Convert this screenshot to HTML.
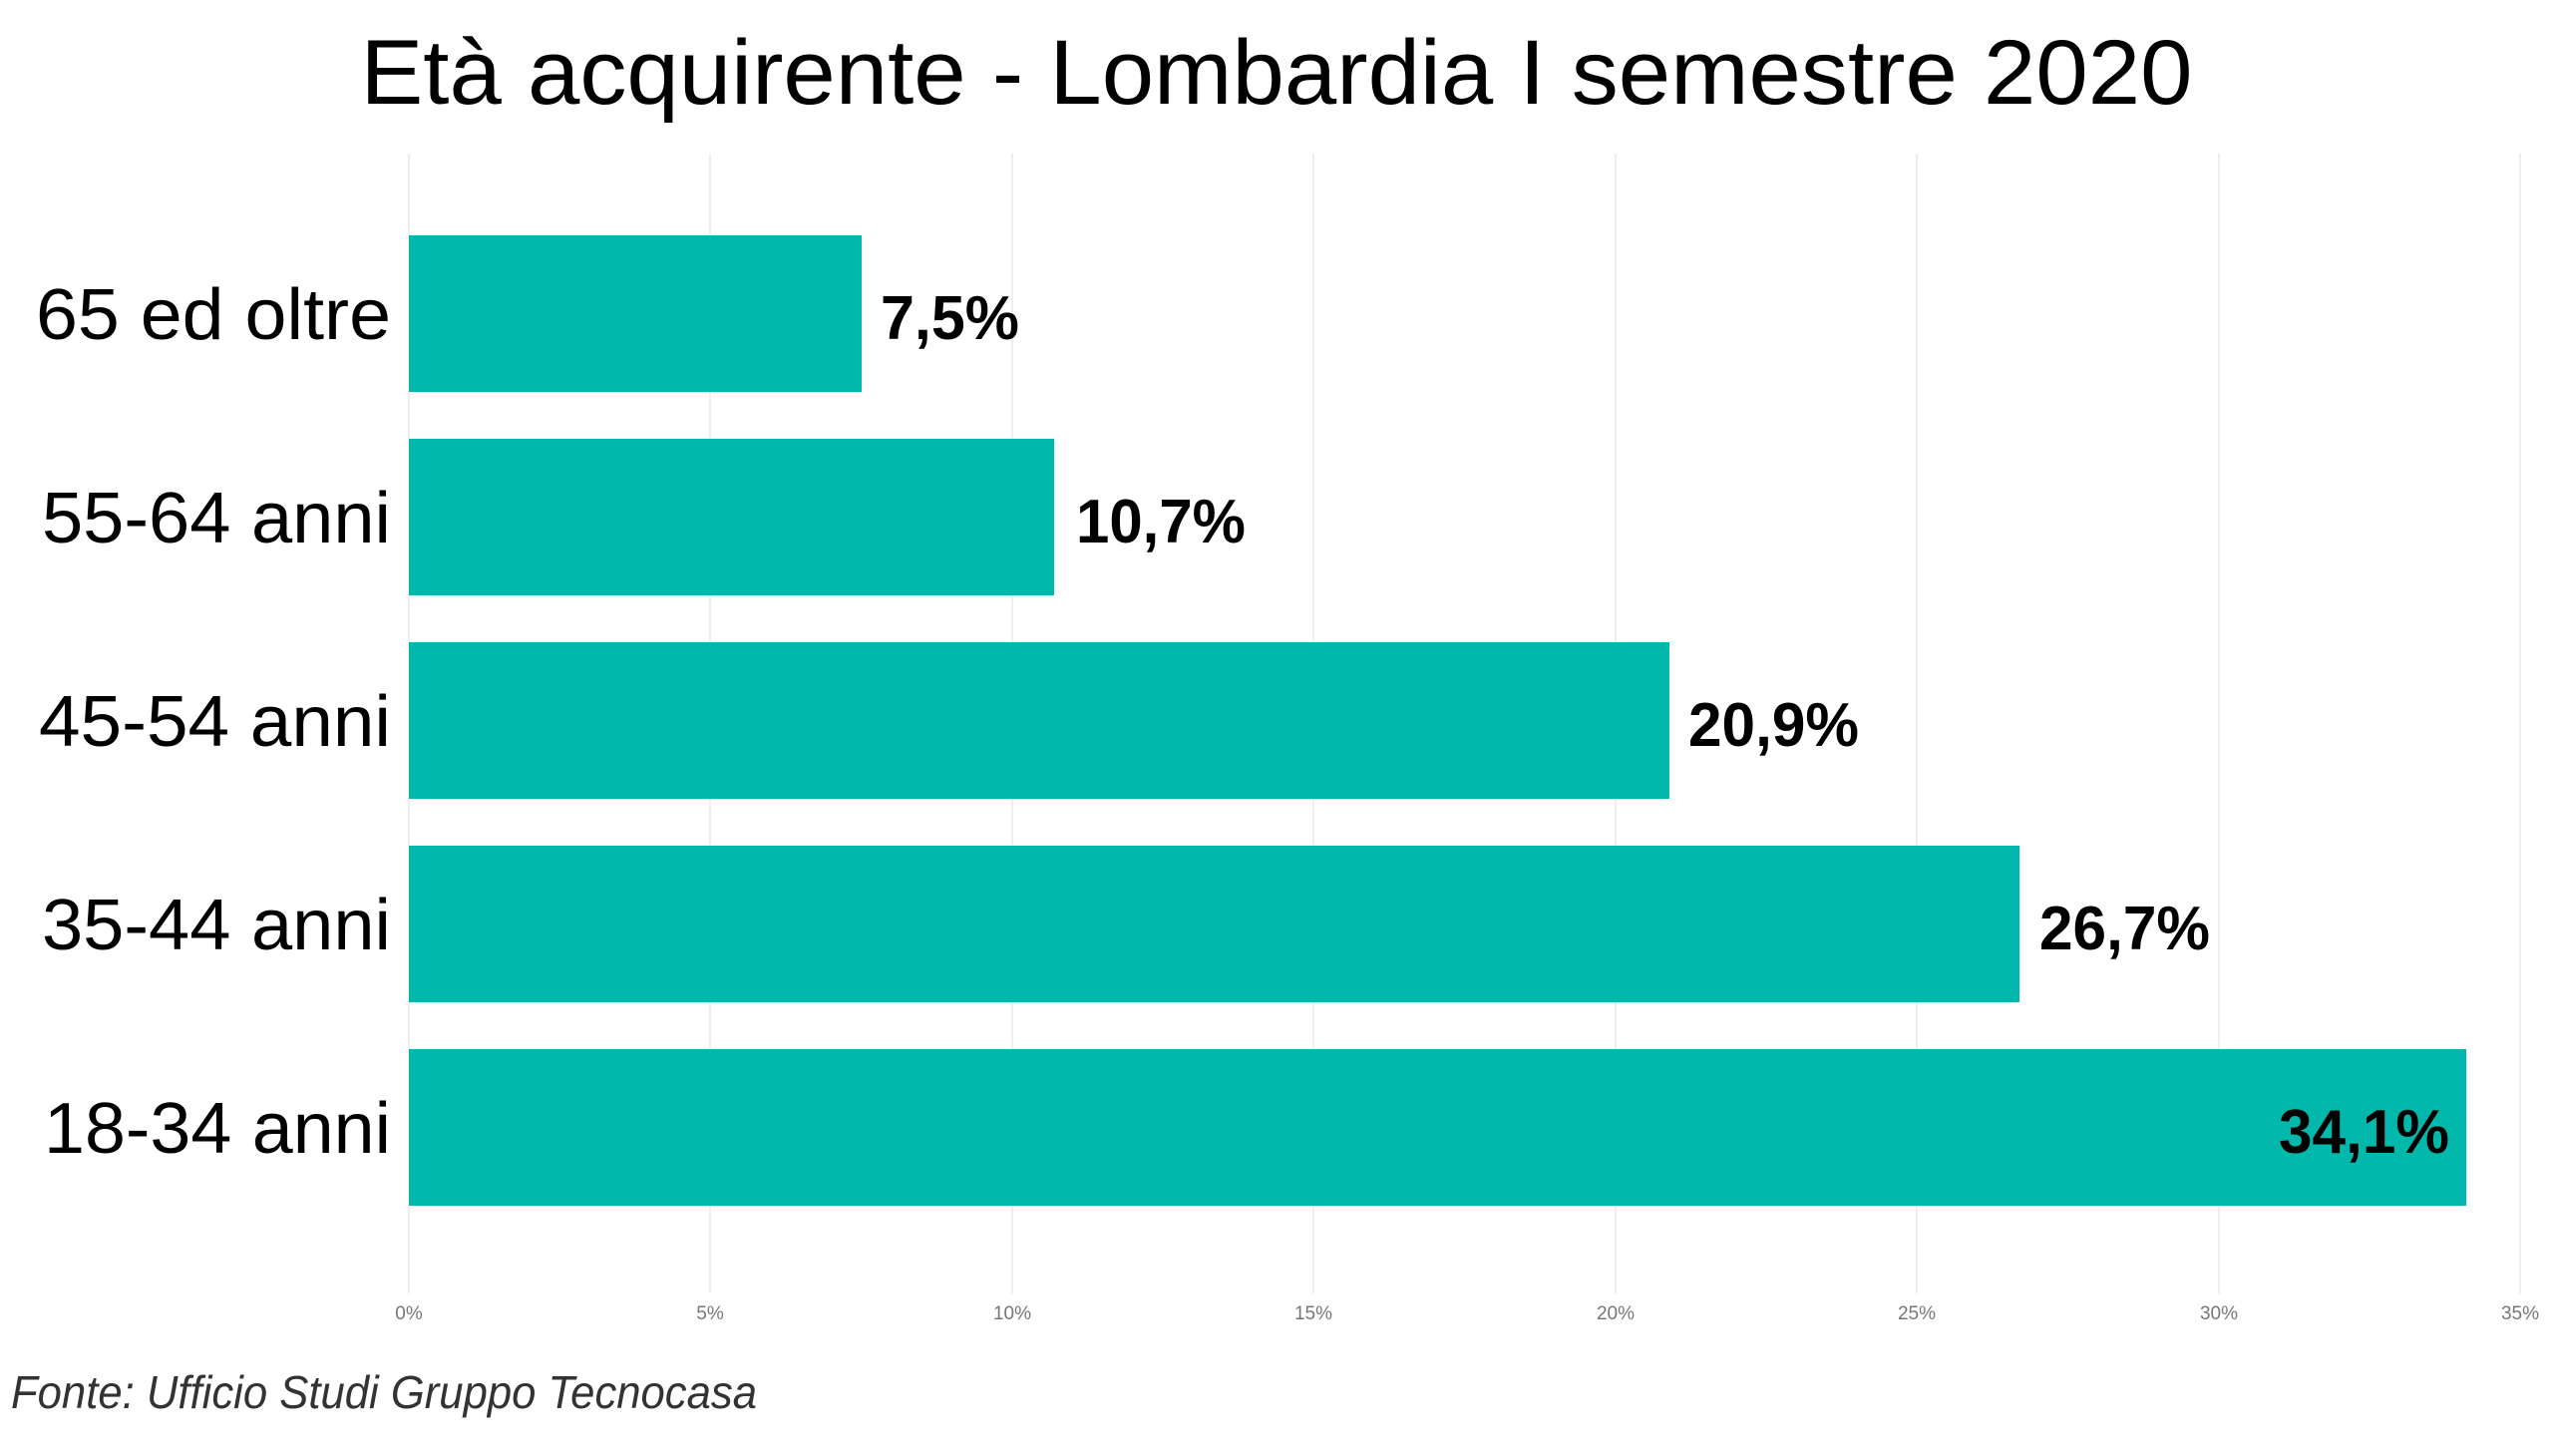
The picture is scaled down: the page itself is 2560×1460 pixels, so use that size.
<!DOCTYPE html>
<html><head><meta charset="utf-8"><style>
html,body{margin:0;padding:0;background:#fff;}
svg{display:block;}
</style></head><body>
<svg width="2560" height="1460" xmlns="http://www.w3.org/2000/svg" font-family="'Liberation Sans', 'DejaVu Sans', sans-serif">
<rect width="2560" height="1460" fill="#fff"/>
<text x="1280" y="104" text-anchor="middle" font-size="92" fill="#000" textLength="1837" lengthAdjust="spacingAndGlyphs">Età acquirente - Lombardia I semestre 2020</text>
<g stroke="#e8e8e8" stroke-width="1.5">
<line x1="410" y1="154" x2="410" y2="1297"/>
<line x1="712" y1="154" x2="712" y2="1297"/>
<line x1="1015" y1="154" x2="1015" y2="1297"/>
<line x1="1317" y1="154" x2="1317" y2="1297"/>
<line x1="1620" y1="154" x2="1620" y2="1297"/>
<line x1="1922" y1="154" x2="1922" y2="1297"/>
<line x1="2225" y1="154" x2="2225" y2="1297"/>
<line x1="2527" y1="154" x2="2527" y2="1297"/>
</g>
<g font-size="19" fill="#777" text-anchor="middle">
<text x="410" y="1323">0%</text>
<text x="712" y="1323">5%</text>
<text x="1015" y="1323">10%</text>
<text x="1317" y="1323">15%</text>
<text x="1620" y="1323">20%</text>
<text x="1922" y="1323">25%</text>
<text x="2225" y="1323">30%</text>
<text x="2527" y="1323">35%</text>
</g>
<g fill="#02B8AA">
<rect x="410" y="236" width="454" height="157"/>
<rect x="410" y="440" width="647" height="157"/>
<rect x="410" y="644" width="1264" height="157"/>
<rect x="410" y="848" width="1615" height="157"/>
<rect x="410" y="1052" width="2063" height="157"/>
</g>
<g font-size="72" fill="#000" text-anchor="end">
<text x="392" y="340" textLength="356" lengthAdjust="spacingAndGlyphs">65 ed oltre</text>
<text x="392" y="544" textLength="350" lengthAdjust="spacingAndGlyphs">55-64 anni</text>
<text x="392" y="748" textLength="353" lengthAdjust="spacingAndGlyphs">45-54 anni</text>
<text x="392" y="952" textLength="350" lengthAdjust="spacingAndGlyphs">35-44 anni</text>
<text x="392" y="1156" textLength="348" lengthAdjust="spacingAndGlyphs">18-34 anni</text>
</g>
<g font-size="62" fill="#000" font-weight="bold">
<text x="883" y="340" textLength="139" lengthAdjust="spacingAndGlyphs">7,5%</text>
<text x="1079" y="544" textLength="170" lengthAdjust="spacingAndGlyphs">10,7%</text>
<text x="1693" y="748" textLength="171" lengthAdjust="spacingAndGlyphs">20,9%</text>
<text x="2045" y="952" textLength="171" lengthAdjust="spacingAndGlyphs">26,7%</text>
<text x="2285" y="1156" textLength="171" lengthAdjust="spacingAndGlyphs">34,1%</text>
</g>
<text x="11" y="1412" font-size="46" font-style="italic" fill="#333" textLength="748" lengthAdjust="spacingAndGlyphs">Fonte: Ufficio Studi Gruppo Tecnocasa</text>
</svg>
</body></html>
